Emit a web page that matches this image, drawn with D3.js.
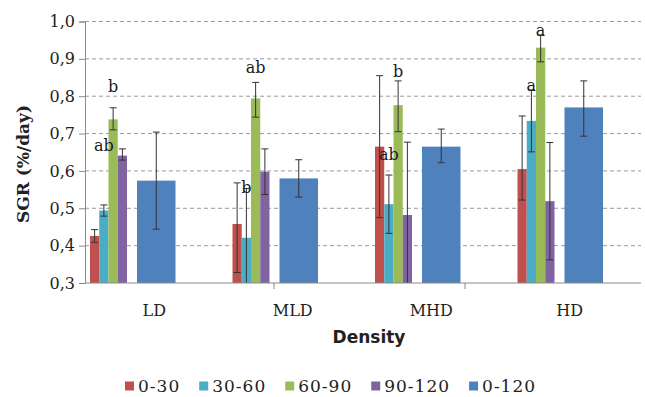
<!DOCTYPE html>
<html><head><meta charset="utf-8">
<script src="https://cdn.jsdelivr.net/npm/d3@7"></script>
<style>body{margin:0;background:#fff}svg{display:block}</style>
</head><body>
<svg id="c" width="645" height="397"></svg>
<script>
// ---------- data ----------
const categories = ["LD", "MLD", "MHD", "HD"];
const seriesNames = ["0-30", "30-60", "60-90", "90-120", "0-120"];
const seriesColors = ["#C0504D", "#4BACC6", "#9BBB59", "#8064A2", "#4F81BD"];
const v0_30   = [0.426, 0.458, 0.665, 0.605];
const v30_60  = [0.494, 0.421, 0.511, 0.734];
const v60_90  = [0.738, 0.794, 0.776, 0.930];
const v90_120 = [0.641, 0.598, 0.482, 0.519];
const v0_120  = [0.574, 0.580, 0.665, 0.770];
// error bars: [minus, plus]
const e0_30   = [[0.017, 0.017], [0.13, 0.11], [0.19, 0.19], [0.083, 0.142]];
const e30_60  = [[0.015, 0.015], [0.132, 0.132], [0.078, 0.078], [0.083, 0.083]];
const e60_90  = [[0.028, 0.031], [0.05, 0.043], [0.071, 0.065], [0.038, 0.034]];
const e90_120 = [[0.012, 0.018], [0.061, 0.061], [0.195, 0.195], [0.157, 0.157]];
const e0_120  = [[0.13, 0.13], [0.05, 0.05], [0.043, 0.047], [0.077, 0.071]];
// significance letters and their vertical level (data units)
const lettersCyan  = ["ab", "b", "ab", "a"];
const levelCyan    = [0.667, 0.557, 0.643, 0.830];
const lettersGreen = ["b", "ab", "b", "a"];
const levelGreen   = [0.827, 0.878, 0.866, 0.977];
const yTicks = [0.3, 0.4, 0.5, 0.6, 0.7, 0.8, 0.9, 1.0];

const values = [v0_30, v30_60, v60_90, v90_120, v0_120];
const errors = [e0_30, e30_60, e60_90, e90_120, e0_120];

// ---------- layout ----------
const svg = d3.select("#c");
const pLeft = 85, pRight = 641, pTop = 21.5, pBottom = 283;
const y = d3.scaleLinear().domain([0.3, 1.0]).range([pBottom, pTop]);
const xGroup = d3.scaleBand().domain(categories).range([pLeft, pLeft + 4 * 142.5]);
const xSmall = d3.scaleBand().domain(seriesNames.slice(0, 4)).range([5, 42]);
const xBig = d3.scaleBand().domain([seriesNames[4]]).range([52, 90.5]);
const xLabel = d3.scaleBand().domain(categories).range([pLeft, 639]);
const xHidden = d3.scaleBand().domain([0, 1, 2]).range([83, 656]);

function barX(si, gi) {
  const g = xGroup(categories[gi]);
  return si < 4 ? g + xSmall(seriesNames[si]) : g + xBig(seriesNames[si]);
}
function barW(si) { return si < 4 ? xSmall.bandwidth() : xBig.bandwidth(); }

svg.append("defs").append("clipPath").attr("id", "plot")
  .append("rect").attr("x", pLeft).attr("y", 0).attr("width", pRight - pLeft).attr("height", pBottom);

// gridlines
svg.append("g").selectAll("line").data(yTicks.filter(t => t > 0.3)).join("line")
  .attr("x1", pLeft).attr("x2", pRight)
  .attr("y1", d => y(d)).attr("y2", d => y(d))
  .attr("stroke", "#9a9a9a").attr("stroke-width", 1).attr("stroke-dasharray", "4,3");

// y axis
const yAxis = d3.axisLeft(y).tickValues(yTicks).tickSize(6).tickPadding(4)
  .tickFormat(d => d3.format(".1f")(d).replace(".", ","));
const gy = svg.append("g").attr("transform", `translate(${pLeft},0)`).call(yAxis);
gy.select(".domain").attr("stroke", "#8a8a8a");
gy.selectAll(".tick line").attr("stroke", "#8a8a8a");
gy.selectAll("text").attr("font-family", "DejaVu Serif").attr("font-size", 16).attr("fill", "#222");

// bars
const bars = svg.append("g").attr("clip-path", "url(#plot)");
values.forEach((vals, si) => {
  bars.selectAll(null).data(vals).join("rect")
    .attr("x", (d, gi) => barX(si, gi)).attr("width", barW(si))
    .attr("y", d => y(d)).attr("height", d => y(0.3) - y(d))
    .attr("fill", seriesColors[si]);
});
// error bars
const errG = svg.append("g").attr("clip-path", "url(#plot)").attr("stroke", "#333").attr("stroke-width", 1);
values.forEach((vals, si) => {
  vals.forEach((v, gi) => {
    const cx = barX(si, gi) + barW(si) / 2;
    const lo = v - errors[si][gi][0], hi = v + errors[si][gi][1];
    const cap = 3.5;
    errG.append("line").attr("x1", cx).attr("x2", cx).attr("y1", y(hi)).attr("y2", y(lo));
    errG.append("line").attr("x1", cx - cap).attr("x2", cx + cap).attr("y1", y(hi)).attr("y2", y(hi));
    errG.append("line").attr("x1", cx - cap).attr("x2", cx + cap).attr("y1", y(lo)).attr("y2", y(lo));
  });
});

// x axis line and ticks
svg.append("line").attr("x1", pLeft).attr("x2", pRight).attr("y1", pBottom).attr("y2", pBottom)
  .attr("stroke", "#8a8a8a");
svg.append("g").selectAll("line").data([1, 2]).join("line")
  .attr("x1", d => xHidden(d)).attr("x2", d => xHidden(d))
  .attr("y1", pBottom).attr("y2", pBottom + 6).attr("stroke", "#8a8a8a");

// category labels
svg.append("g").selectAll("text").data(categories).join("text")
  .attr("x", d => xLabel(d) + xLabel.bandwidth() / 2).attr("y", 315.5)
  .attr("text-anchor", "middle").attr("font-family", "DejaVu Serif").attr("font-size", 16)
  .attr("fill", "#222").text(d => d);

// letters
function letters(arr, lev, si) {
  svg.append("g").selectAll("text").data(arr).join("text")
    .attr("x", (d, gi) => barX(si, gi) + barW(si) / 2)
    .attr("y", (d, gi) => y(lev[gi]))
    .attr("dy", "0.35em").attr("text-anchor", "middle")
    .attr("font-family", "DejaVu Serif").attr("font-size", 16).attr("fill", "#1a1a1a")
    .text(d => d);
}
letters(lettersCyan, levelCyan, 1);
letters(lettersGreen, levelGreen, 2);

// axis titles
svg.append("text").attr("transform", `translate(29,164) rotate(-90)`)
  .attr("text-anchor", "middle").attr("font-family", "DejaVu Serif").attr("font-weight", "bold")
  .attr("font-size", 17).attr("fill", "#222").text("SGR (%/day)");
svg.append("text").attr("x", 369).attr("y", 343)
  .attr("text-anchor", "middle").attr("font-family", "DejaVu Sans").attr("font-weight", "bold")
  .attr("font-size", 17).attr("fill", "#222").text("Density");

// legend
const leg = svg.append("g");
let lx = 125;
seriesNames.forEach((name, i) => {
  leg.append("rect").attr("x", lx).attr("y", 381.5).attr("width", 9).attr("height", 9)
    .attr("fill", seriesColors[i]);
  const t = leg.append("text").attr("x", lx + 13).attr("y", 391.5)
    .attr("font-family", "DejaVu Serif").attr("font-size", 17).attr("letter-spacing", 1)
    .attr("fill", "#222").text(name);
  lx += 13 + t.node().getComputedTextLength() + 19;
});
</script>
</body></html>
